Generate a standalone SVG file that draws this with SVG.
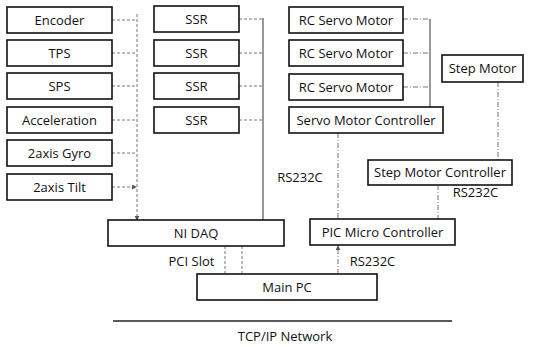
<svg xmlns="http://www.w3.org/2000/svg" width="534" height="347" viewBox="0 0 534 347">
<style>
.box{fill:#fff;stroke:#111;stroke-width:1.6}
.t{font-family:"Open Sans","Noto Sans",sans-serif;font-size:13px;fill:#111;text-anchor:middle}
.d{stroke:#777;stroke-width:1;fill:none;stroke-dasharray:3 2}
.dd{stroke:#777;stroke-width:1;fill:none;stroke-dasharray:5 2 1 2}
.s{stroke:#555;stroke-width:1.2;fill:none}
</style>
<defs>
<marker id="ah" viewBox="0 0 6 6" refX="5" refY="3" markerWidth="5" markerHeight="5" orient="auto"><path d="M0,0 L6,3 L0,6 z" fill="#555"/></marker>
</defs>
<rect width="534" height="347" fill="#fff"/>
<g id="connectors">
<path class="d" d="M112,20H136M112,53H136M112,86H136M112,120H136M112,153H136M112,187H136" marker-end="url(#ah)"/>
<path class="d" d="M137,14V220" marker-end="url(#ah)"/>
<path class="d" d="M239,19H263M239,53H263M239,86H263M239,120H263"/>
<path class="s" d="M263,18V220"/>
<path class="dd" d="M403,19H430M403,53H430M403,87H430"/>
<path class="s" d="M430,19V107"/>
<path class="dd" d="M498,82V160"/>
<path class="dd" d="M338,133V219"/>
<path class="dd" d="M438,185V219"/>
<path class="d" d="M225,246V274M242,246V274"/>
<path class="dd" d="M338,274V246" marker-end="url(#ah)"/>
<path d="M113,321H452" stroke="#222" stroke-width="1.3"/>
</g>
<g id="encoder"><rect class="box" x="7" y="7" width="105" height="26"/><text class="t" x="59.5" y="25">Encoder</text></g>
<g id="tps"><rect class="box" x="7" y="40" width="105" height="26"/><text class="t" x="59.5" y="58">TPS</text></g>
<g id="sps"><rect class="box" x="7" y="73" width="105" height="26"/><text class="t" x="59.5" y="91">SPS</text></g>
<g id="accel"><rect class="box" x="7" y="107" width="105" height="26"/><text class="t" x="59.5" y="125">Acceleration</text></g>
<g id="gyro"><rect class="box" x="7" y="140" width="105" height="26"/><text class="t" x="59.5" y="158">2axis Gyro</text></g>
<g id="tilt"><rect class="box" x="7" y="174" width="105" height="26"/><text class="t" x="59.5" y="192">2axis Tilt</text></g>
<g id="ssr1"><rect class="box" x="154" y="6" width="85" height="26"/><text class="t" x="196.5" y="24">SSR</text></g>
<g id="ssr2"><rect class="box" x="154" y="40" width="85" height="26"/><text class="t" x="196.5" y="58">SSR</text></g>
<g id="ssr3"><rect class="box" x="154" y="73" width="85" height="26"/><text class="t" x="196.5" y="91">SSR</text></g>
<g id="ssr4"><rect class="box" x="154" y="107" width="85" height="26"/><text class="t" x="196.5" y="125">SSR</text></g>
<g id="rc1"><rect class="box" x="289" y="7" width="114" height="26"/><text class="t" x="346" y="25">RC Servo Motor</text></g>
<g id="rc2"><rect class="box" x="289" y="40" width="114" height="26"/><text class="t" x="346" y="58">RC Servo Motor</text></g>
<g id="rc3"><rect class="box" x="289" y="74" width="114" height="26"/><text class="t" x="346" y="92">RC Servo Motor</text></g>
<g id="servoctrl"><rect class="box" x="289" y="107" width="154" height="26"/><text class="t" x="366" y="125">Servo Motor Controller</text></g>
<g id="stepmotor"><rect class="box" x="442" y="55" width="81" height="27"/><text class="t" x="482.5" y="73">Step Motor</text></g>
<g id="stepctrl"><rect class="box" x="368" y="160" width="144" height="25"/><text class="t" x="440" y="177">Step Motor Controller</text></g>
<g id="pic"><rect class="box" x="310" y="219" width="145" height="26"/><text class="t" x="382.5" y="237">PIC Micro Controller</text></g>
<g id="nidaq"><rect class="box" x="108" y="220" width="176" height="26"/><text class="t" x="196" y="238">NI DAQ</text></g>
<g id="mainpc"><rect class="box" x="197" y="274" width="180" height="26"/><text class="t" x="287" y="292">Main PC</text></g>
<g id="labels">
<text class="t" x="300" y="182">RS232C</text>
<text class="t" x="475.5" y="197">RS232C</text>
<text class="t" x="191.5" y="266">PCI Slot</text>
<text class="t" x="372.5" y="266">RS232C</text>
<text class="t" x="285" y="341">TCP/IP Network</text>
</g>
</svg>
